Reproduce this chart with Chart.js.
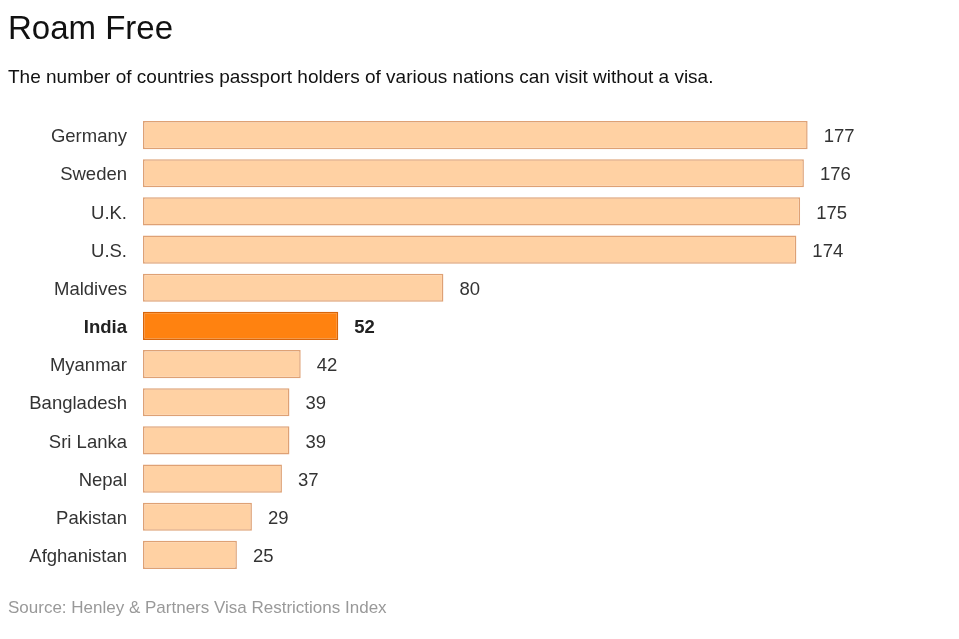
<!DOCTYPE html>
<html>
<head>
<meta charset="utf-8">
<script src="https://cdn.jsdelivr.net/npm/chart.js@4"></script>
<style>
  html, body { margin: 0; padding: 0; background: #fff; }
  body { width: 959px; height: 639px; position: relative; overflow: hidden;
         font-family: "Liberation Sans", Arial, Helvetica, sans-serif; color: #111; }
  #title { position: absolute; left: 8px; top: 8px; font-size: 33px; line-height: 40px; color: #111; }
  #subtitle { position: absolute; left: 8px; top: 65px; font-size: 19px; line-height: 24px; color: #111; }
  #source { position: absolute; left: 8px; top: 598px; font-size: 17px; line-height: 20px; color: #999; }
  #chart { position: absolute; left: 0; top: 0; }
</style>
</head>
<body>
<canvas id="chart" width="959" height="639"></canvas>
<div id="title">Roam Free</div>
<div id="subtitle">The number of countries passport holders of various nations can visit without a visa.</div>
<div id="source">Source: Henley &amp; Partners Visa Restrictions Index</div>
<script>
// ─── Data ─────────────────────────────────────────────────────────────────────

const countries = ["Germany", "Sweden", "U.K.", "U.S.", "Maldives", "India",
  "Myanmar", "Bangladesh", "Sri Lanka", "Nepal", "Pakistan", "Afghanistan"];
const visaFree = [177, 176, 175, 174, 80, 52, 42, 39, 39, 37, 29, 25];
const highlight = "India";

// ─── Styles ───────────────────────────────────────────────────────────────────

const FONT = "'Liberation Sans', Arial, Helvetica, sans-serif";
const isHi = (i) => countries[i] === highlight;

const fills = countries.map((c) => c === highlight ? "#ff8210" : "#ffd1a3");
const borders = countries.map((c) => c === highlight ? "#d8650a" : "#dea175");

// value labels at the end of each bar
const valueLabels = {
  id: "valueLabels",
  afterDatasetsDraw(chart) {
    const ctx = chart.ctx;
    const meta = chart.getDatasetMeta(0);
    ctx.save();
    ctx.textBaseline = "middle";
    ctx.textAlign = "left";
    meta.data.forEach((bar, i) => {
      ctx.font = (isHi(i) ? "bold " : "") + "18.5px " + FONT;
      ctx.fillStyle = isHi(i) ? "#222" : "#333";
      ctx.fillText(String(visaFree[i]), bar.x + 16, bar.y + 2);
    });
    ctx.restore();
  },
};

new Chart(document.getElementById("chart"), {
  type: "bar",
  data: {
    labels: countries,
    datasets: [{
      data: visaFree,
      backgroundColor: fills,
      borderColor: borders,
      borderWidth: 1.5,
      borderSkipped: false,
      categoryPercentage: 1,
      barPercentage: 0.74,
    }],
  },
  options: {
    indexAxis: "y",
    responsive: false,
    animation: false,
    events: [],
    layout: { padding: { top: 116, bottom: 65, left: 0, right: 65 } },
    plugins: { legend: { display: false }, tooltip: { enabled: false } },
    scales: {
      x: { display: false, min: 0, max: 200 },
      y: {
        grid: { display: false },
        border: { display: false },
        afterFit(axis) { axis.width = 143; },
        ticks: {
          padding: 8,
          labelOffset: 2,
          color: (c) => isHi(c.index) ? "#222" : "#333",
          font: (c) => ({ family: FONT, size: 18.5, weight: isHi(c.index) ? "bold" : "normal" }),
        },
      },
    },
  },
  plugins: [valueLabels],
});
</script>
</body>
</html>
